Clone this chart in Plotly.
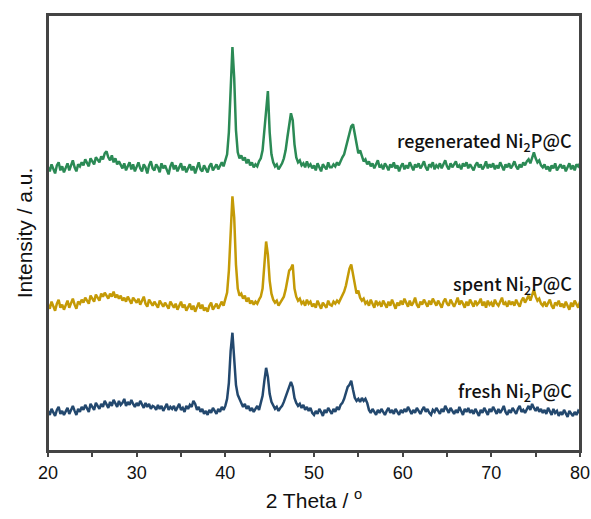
import numpy as np
import plotly.graph_objects as go

# 2-theta grid (degrees), 0.2 deg step
two_theta = np.round(np.linspace(20, 80, 301), 2)

regenerated = [
    283,279,286,281,277,285,288,280,284,278,
    282,287,280,285,290,283,279,286,284,288,
    285,291,287,284,292,289,286,293,290,288,
    294,291,297,299,293,290,295,288,292,286,
    289,285,282,287,280,284,288,281,286,279,
    284,288,282,279,286,283,277,285,289,282,
    280,286,283,278,287,282,285,280,276,284,
    288,281,285,279,283,287,280,284,278,282,
    286,280,284,277,283,288,281,279,285,282,
    278,284,287,280,283,286,281,285,288,284,
    290,296,318,362,403,372,320,298,292,295,
    290,293,287,291,285,288,283,286,284,289,
    292,300,322,345,359,318,296,288,284,286,
    281,284,287,292,300,313,328,337,330,306,
    293,288,290,285,287,283,289,284,286,282,
    285,280,287,283,279,286,284,281,288,283,
    283,286,284,288,285,290,293,296,303,311,
    318,324,326,316,304,297,300,293,289,291,
    286,289,284,287,282,286,290,283,285,281,
    287,284,280,286,283,288,282,285,279,284,
    287,281,285,282,288,284,280,286,283,287,
    282,285,289,283,280,286,284,288,281,285,
    283,287,282,286,290,284,281,287,283,286,
    289,283,285,281,287,284,288,282,286,283,
    280,285,288,283,286,281,284,289,282,286,
    283,287,281,285,282,288,284,280,286,283,
    287,282,285,289,284,281,286,283,288,285,
    289,291,287,293,298,292,288,290,285,283,
    286,281,284,279,285,282,287,280,283,286,
    282,285,279,284,287,281,285,280,286,284,
    287,
]

spent = [
    146,142,149,144,140,147,151,143,146,141,
    145,150,143,148,152,146,142,149,147,151,
    148,153,150,147,155,152,149,156,153,150,
    157,154,158,155,152,157,154,159,153,156,
    152,155,150,153,149,154,151,147,153,150,
    148,152,146,150,154,147,144,151,148,145,
    149,146,143,150,147,144,148,145,142,149,
    146,143,147,141,145,149,143,146,140,144,
    147,141,145,139,144,148,142,146,140,143,
    139,145,148,141,144,147,142,146,149,145,
    151,158,180,222,254,233,186,162,155,157,
    152,155,149,153,147,150,146,149,147,151,
    154,162,184,209,196,170,157,151,148,150,
    145,148,150,154,161,170,180,182,186,162,
    154,150,152,147,149,145,151,147,149,144,
    147,143,150,146,142,148,145,143,150,146,
    145,149,147,150,148,152,155,159,165,174,
    182,186,176,163,157,160,153,150,152,147,
    149,145,151,147,143,150,146,148,144,150,
    147,143,149,145,151,146,142,148,145,150,
    146,152,147,144,150,145,148,153,146,143,
    149,146,151,147,144,150,146,152,148,145,
    150,146,143,149,152,147,145,151,148,144,
    148,153,146,150,147,143,149,145,151,147,
    144,150,146,148,152,145,149,143,150,146,
    148,144,151,147,145,149,153,146,148,144,
    150,146,149,145,151,147,144,150,153,148,
    151,155,150,157,161,154,150,152,147,145,
    149,144,147,151,145,142,148,146,150,144,
    147,143,149,145,141,148,144,150,146,143,
    149,
]

fresh = [
    40,36,42,38,35,41,44,37,40,36,
    39,43,37,41,45,40,36,42,39,44,
    41,46,42,39,47,44,41,48,45,42,
    47,44,50,46,43,49,45,51,47,44,
    50,46,48,52,45,49,46,51,47,44,
    48,45,50,46,43,48,44,47,42,45,
    44,41,46,42,45,40,43,47,41,44,
    42,45,40,44,47,41,43,39,45,42,
    46,44,50,47,41,44,39,42,37,40,
    36,41,38,43,40,37,42,39,44,41,
    45,52,68,100,118,92,66,56,51,48,
    44,47,42,45,40,43,39,42,45,41,
    47,55,70,83,74,57,49,45,42,44,
    40,43,45,49,54,60,66,69,64,53,
    48,45,47,43,46,41,44,40,43,38,
    36,40,37,42,39,35,41,38,43,40,
    37,42,39,44,41,46,48,52,58,64,
    66,70,61,53,50,52,49,53,50,52,
    48,41,38,42,39,36,41,38,42,39,
    36,40,43,38,41,37,42,39,36,41,
    38,42,39,44,40,37,41,38,43,40,
    37,41,44,39,42,38,36,41,39,43,
    40,37,42,39,45,41,38,43,40,37,
    41,38,44,40,36,42,39,43,38,41,
    37,42,39,35,41,38,43,40,36,42,
    39,44,40,37,42,38,41,45,39,36,
    41,38,43,40,37,42,45,39,41,38,
    42,45,41,47,43,40,44,39,42,38,
    41,37,43,39,36,42,38,40,35,39,
    36,41,38,34,40,37,35,39,36,40,
    38,
]

series_names = ["regenerated Ni<sub>2</sub>P@C", "spent Ni<sub>2</sub>P@C", "fresh Ni<sub>2</sub>P@C"]
series_data = [regenerated, spent, fresh]
series_colors = ["#2B8A55", "#C49A06", "#23486E"]
label_y = [309, 166, 59]

x_ticks = [20, 30, 40, 50, 60, 70, 80]

fig = go.Figure()
for name, ys, col in zip(series_names, series_data, series_colors):
    fig.add_trace(go.Scatter(x=two_theta, y=ys, mode="lines", name=name,
                             line=dict(color=col, width=2.5), showlegend=False))

for name, ly in zip(series_names, label_y):
    fig.add_annotation(x=79.3, y=ly, xref="x", yref="y", text=name, showarrow=False,
                       xanchor="right", yanchor="middle",
                       font=dict(family="Noto Sans CJK SC", size=18, color="#111111", weight=500))

axis_col = "#444444"
fig.add_shape(type="rect", xref="paper", yref="paper", x0=0, x1=1, y0=0, y1=1,
              line=dict(color=axis_col, width=2), layer="above")

fig.update_layout(
    width=591, height=519,
    margin=dict(l=48, r=11, t=15, b=68, autoexpand=False),
    paper_bgcolor="white", plot_bgcolor="white",
    font=dict(family="Liberation Sans", color="#111111"),
    xaxis=dict(range=[20, 80], tickvals=x_ticks, ticks="outside", ticklen=4,
               tickwidth=1.5, tickcolor=axis_col, automargin=False,
               ticklabeloverflow="allow",
               minor=dict(dtick=5, ticks="outside", ticklen=4, tickwidth=1.5, tickcolor=axis_col),
               showline=True, linecolor=axis_col, linewidth=2, mirror=True,
               showgrid=False, zeroline=False,
               tickfont=dict(size=18, family="Liberation Sans"),
               title=dict(text="2 Theta / <sup>o</sup>", font=dict(size=21, family="Liberation Sans"),
                          standoff=12)),
    yaxis=dict(range=[0, 435], showticklabels=False, ticks="", automargin=False,
               showline=True, linecolor=axis_col, linewidth=2, mirror=True,
               showgrid=False, zeroline=False,
               title=dict(text="Intensity / a.u.", font=dict(size=21, family="Liberation Sans"),
                          standoff=8)),
)

fig.write_html("out.html")
